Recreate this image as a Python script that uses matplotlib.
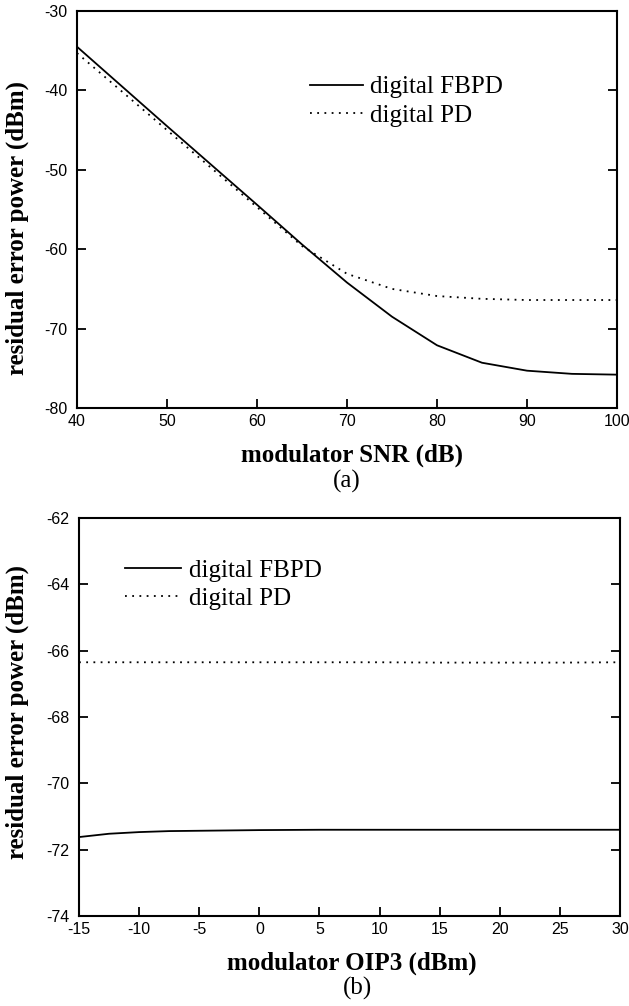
import matplotlib
matplotlib.use("Agg")
import matplotlib.pyplot as plt

# (a) residual error power vs modulator SNR
snr_db = [40, 50, 60, 65, 70, 75, 80, 85, 90, 95, 100]
fbpd_snr = [-34.5, -44.5, -54.4, -59.4, -64.2, -68.5, -72.1, -74.3, -75.3, -75.7, -75.8]
pd_snr = [-35.3, -45.0, -54.7, -59.6, -63.1, -65.0, -65.9, -66.25, -66.4, -66.4, -66.4]

# (b) residual error power vs modulator OIP3
oip3_dbm = [-15, -12.5, -10, -7.5, -5, 0, 5, 10, 15, 20, 25, 30]
fbpd_oip3 = [-71.62, -71.52, -71.47, -71.44, -71.43, -71.41, -71.40, -71.40, -71.40, -71.40, -71.40, -71.40]
pd_oip3 = [-66.35, -66.35, -66.35, -66.35, -66.35, -66.35, -66.35, -66.35, -66.36, -66.36, -66.36, -66.35]

snr_ticks = [40, 50, 60, 70, 80, 90, 100]
snr_ylim = (-80, -30)
snr_yticks = [-80, -70, -60, -50, -40, -30]
oip3_ticks = [-15, -10, -5, 0, 5, 10, 15, 20, 25, 30]
oip3_ylim = (-74, -62)
oip3_yticks = [-74, -72, -70, -68, -66, -64, -62]

labels = ["digital FBPD", "digital PD"]

W, H = 629, 1006
fig = plt.figure(figsize=(W / 100, H / 100), dpi=100)

SERIF = "Liberation Serif"
SANS = "Liberation Sans"
DOT = (0, (1, 3.0))


def px_axes(l, t, r, b):
    return fig.add_axes([l / W, 1 - b / H, (r - l) / W, (b - t) / H])


def style(ax, xt, xlim, yt, ylim):
    ax.set_xlim(*xlim)
    ax.set_ylim(*ylim)
    ax.set_xticks(xt)
    ax.set_yticks(yt)
    ax.set_xticklabels([f"{v:g}" for v in xt])
    ax.set_yticklabels([f"{v:g}" for v in yt])
    ax.tick_params(direction="in", length=6.5, width=1.3, labelsize=11.5,
                   right=True, top=False)
    ax.tick_params(axis="x", pad=4)
    ax.tick_params(axis="y", pad=7)
    for lab in ax.get_xticklabels() + ax.get_yticklabels():
        lab.set_fontfamily(SANS)
    for sp in ax.spines.values():
        sp.set_linewidth(1.5)


def legend(ax, x, y, hl):
    ax.legend(labels, loc="upper left", bbox_to_anchor=(x / W, 1 - y / H),
              bbox_transform=fig.transFigure, frameon=False, borderpad=0,
              borderaxespad=0, handlelength=hl, handletextpad=0.3,
              labelspacing=0.24, prop={"family": SERIF, "size": 18})


# top panel
ax1 = px_axes(77, 11, 617, 408)
ax1.plot(snr_db, fbpd_snr, color="black", lw=1.3)
ax1.plot(snr_db, pd_snr, color="black", lw=1.3, linestyle=DOT)
style(ax1, snr_ticks, (40, 100), snr_yticks, snr_ylim)
legend(ax1, 310, 76, 2.1)
fig.text(352 / W, 1 - 455 / H, "modulator SNR (dB)", ha="center", va="center",
         family=SERIF, weight="bold", size=18)
fig.text(347 / W, 1 - 481 / H, "(a)", ha="center", va="center",
         family=SERIF, size=18)
fig.text(17 / W, 1 - 228 / H, "residual error power (dBm)", ha="center",
         va="center", rotation=90, family=SERIF, weight="bold", size=18)

# bottom panel
ax2 = px_axes(79, 518, 620, 916)
ax2.plot(oip3_dbm, fbpd_oip3, color="black", lw=1.3)
ax2.plot(oip3_dbm, pd_oip3, color="black", lw=1.3, linestyle=DOT)
style(ax2, oip3_ticks, (-15, 30), oip3_yticks, oip3_ylim)
legend(ax2, 125, 559, 2.25)
fig.text(352 / W, 1 - 963 / H, "modulator OIP3 (dBm)", ha="center", va="center",
         family=SERIF, weight="bold", size=18)
fig.text(357 / W, 1 - 988 / H, "(b)", ha="center", va="center",
         family=SERIF, size=18)
fig.text(17 / W, 1 - 712 / H, "residual error power (dBm)", ha="center",
         va="center", rotation=90, family=SERIF, weight="bold", size=18)

fig.savefig("out.png", dpi=100)
